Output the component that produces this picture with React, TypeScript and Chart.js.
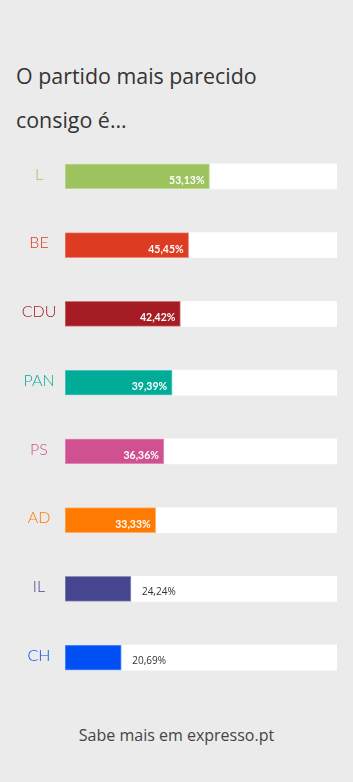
import React, { useEffect, useRef } from "react";
import { Chart, registerables } from "chart.js";

Chart.register(...registerables);

const parties = ["L", "BE", "CDU", "PAN", "PS", "AD", "IL", "CH"];
const values = [53.13, 45.45, 42.42, 39.39, 36.36, 33.33, 24.24, 20.69];
const partyColors = ["#9dc35f", "#dd3b22", "#a51c24", "#00ab97", "#d05190", "#ff7a00", "#45468f", "#0050f5"];
const trackValues = [100, 100, 100, 100, 100, 100, 100, 100];
const titleText = "O partido mais parecido consigo é...";
const footerText = "Sabe mais em expresso.pt";

const FONT = "'Open Sans', Lato, sans-serif";
const LFONT = "Lato, 'Open Sans', sans-serif";

const labelPlugin = {
  id: "customLabels",
  afterDatasetsDraw(chart: any) {
    const ctx = chart.ctx;
    const yScale = chart.scales.y;
    const xScale = chart.scales.x;
    const meta = chart.getDatasetMeta(0);
    ctx.save();
    parties.forEach((p, i) => {
      const yc = yScale.getPixelForValue(i);
      ctx.font = `300 16px ${LFONT}`;
      ctx.fillStyle = partyColors[i];
      ctx.textAlign = "center";
      ctx.textBaseline = "middle";
      ctx.fillText(p, 39, yc - 2);
      const txt = values[i].toFixed(2).replace(".", ",") + "%";
      const bar = meta.data[i];
      const xEnd = bar.x;
      const xStart = xScale.getPixelForValue(0);
      ctx.textBaseline = "middle";
      ctx.font = `bold 10.5px ${LFONT}`;
      const w = ctx.measureText(txt).width;
      if (xEnd - xStart > w + 35) {
        ctx.fillStyle = "#ffffff";
        ctx.textAlign = "right";
        ctx.fillText(txt, xEnd - 5, yc + 4);
      } else {
        ctx.font = `10px ${FONT}`;
        ctx.fillStyle = "#333333";
        ctx.textAlign = "left";
        ctx.fillText(txt, xEnd + 11, yc + 3.5);
      }
    });
    ctx.restore();
  },
};

function App() {
  const ref = useRef<HTMLCanvasElement | null>(null);
  useEffect(() => {
    document.body.style.margin = "0";
    document.body.style.background = "#ebebeb";
    if (!ref.current) return;
    const chart = new Chart(ref.current, {
      type: "bar",
      data: {
        labels: parties,
        datasets: [
          {
            data: values,
            backgroundColor: partyColors,
            borderColor: partyColors.map((c) => c + "99"),
            borderWidth: 1,
            borderSkipped: false,
            barThickness: 25,
            grouped: false,
          } as any,
          {
            data: trackValues,
            backgroundColor: "#ffffff",
            borderWidth: 0,
            barThickness: 25,
            grouped: false,
          } as any,
        ],
      },
      options: {
        indexAxis: "y",
        animation: false,
        responsive: false,
        maintainAspectRatio: false,
        layout: { padding: { left: 0, right: 16, top: 0, bottom: 0 } },
        plugins: { legend: { display: false }, tooltip: { enabled: false } },
        scales: {
          x: { min: 0, max: 100, display: false },
          y: {
            display: true,
            grid: { display: false, drawTicks: false },
            border: { display: false },
            ticks: { display: false },
            afterFit: (scale: any) => {
              scale.width = 65;
            },
          },
        },
      },
      plugins: [labelPlugin],
    });
    return () => chart.destroy();
  }, []);

  return (
    <div style={{ position: "relative", width: 353, height: 782, background: "#ebebeb", overflow: "hidden", fontFamily: FONT }}>
      <div
        style={{
          position: "absolute",
          left: 16,
          top: 54,
          width: 280,
          fontSize: 21.4,
          lineHeight: "44px",
          color: "#333333",
          fontWeight: 400,
        }}
      >
        {titleText}
      </div>
      <canvas ref={ref} width={353} height={550} style={{ position: "absolute", left: 0, top: 142, width: 353, height: 550 }} />
      <div
        style={{
          position: "absolute",
          left: 0,
          width: 353,
          top: 724,
          textAlign: "center",
          fontSize: 16,
          color: "#444444",
        }}
      >
        {footerText}
      </div>
    </div>
  );
}

export default App;
